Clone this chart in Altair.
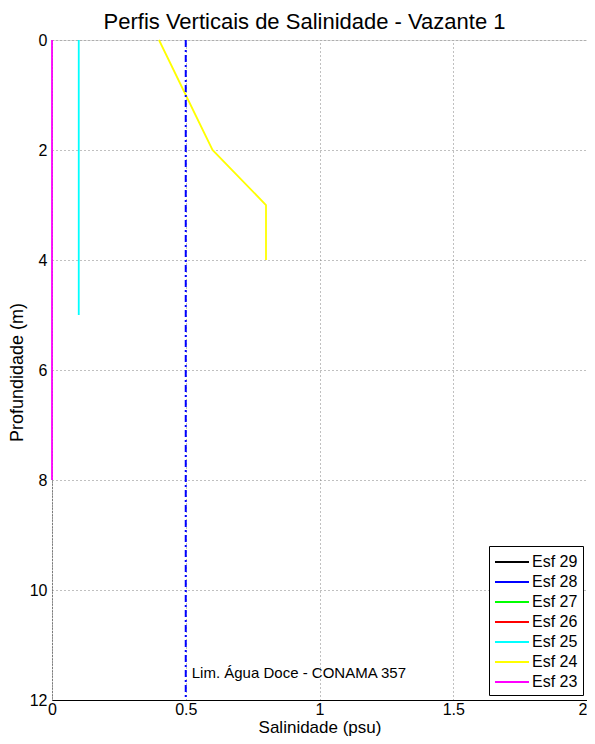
import altair as alt
import pandas as pd

# ---- data ----
series_names = ["Esf 29", "Esf 28", "Esf 27", "Esf 26", "Esf 25", "Esf 24", "Esf 23"]
series_colors = ["#000000", "#0000FF", "#00FF00", "#FF0000", "#00FFFF", "#FFFF00", "#FF00FF"]

# Esf 29..26 show no visible profile in the reference (only legend entries)
esf29_depth, esf29_sal = [], []
esf28_depth, esf28_sal = [], []
esf27_depth, esf27_sal = [], []
esf26_depth, esf26_sal = [], []
esf25_depth = [0, 1, 2, 3, 4, 5]
esf25_sal = [0.1, 0.1, 0.1, 0.1, 0.1, 0.1]
esf24_depth = [0, 1, 2, 3, 4]
esf24_sal = [0.4, 0.5, 0.6, 0.8, 0.8]
esf23_depth = [0, 1, 2, 3, 4, 5, 6, 7, 8]
esf23_sal = [0, 0, 0, 0, 0, 0, 0, 0, 0]

limit_sal = [0.5]
limit_label = ["Lim. Água Doce - CONAMA 357"]
limit_label_depth = [11.5]

x_ticks = [0, 0.5, 1, 1.5, 2]
y_ticks = [0, 2, 4, 6, 8, 10, 12]

# ---- build table ----
all_depths = [esf29_depth, esf28_depth, esf27_depth, esf26_depth, esf25_depth, esf24_depth, esf23_depth]
all_sals = [esf29_sal, esf28_sal, esf27_sal, esf26_sal, esf25_sal, esf24_sal, esf23_sal]
rows = []
for name, ds, ss in zip(series_names, all_depths, all_sals):
    for d, s in zip(ds, ss):
        rows.append({"serie": name, "depth": d, "sal": s})
df = pd.DataFrame(rows)

lim_df = pd.DataFrame({"sal": limit_sal})
lbl_df = pd.DataFrame({"sal": limit_sal, "depth": limit_label_depth, "text": limit_label})

FONT = "Liberation Sans"
W, H = 535, 660

x_scale = alt.Scale(domain=[0, 2], nice=False, zero=False)
y_scale = alt.Scale(domain=[0, 12], reverse=True, nice=False, zero=False)

x_axis = alt.Axis(
    title="Salinidade (psu)", values=x_ticks, format="~g", grid=True, ticks=False,
    labelFontSize=16, labelPadding=1, labelColor="black", labelFont=FONT,
    labelAlign={"condition": {"test": "datum.value >= 2", "value": "right"}, "value": "center"},
    titleFontSize=17, titleFontWeight="normal", titleColor="black", titleFont=FONT,
    titleX=W / 2, titleY=32.5, titleBaseline="alphabetic", titleAlign="center",
    domainColor="black", domainWidth=1,
    gridColor="#808080", gridDash=[1, 3], gridWidth=1,
    labelFlush=False,
)
y_axis = alt.Axis(
    title="Profundidade (m)", values=y_ticks, format="~g", grid=True, ticks=False,
    labelFontSize=16, labelPadding=5, labelColor="black", labelFont=FONT,
    titleFontSize=18, titleFontWeight="normal", titleColor="black", titleFont=FONT,
    titleX=-35, titleY=332, titleAngle=-90, titleBaseline="middle", titleAlign="center",
    domainColor="#444444", domainDash=[1, 2], domainWidth=1,
    gridColor="#808080", gridDash=[1, 3], gridWidth=1,
    labelFlush=False,
)

lines = alt.Chart(df).mark_line(strokeWidth=1.8).encode(
    x=alt.X("sal:Q", scale=x_scale, axis=x_axis),
    y=alt.Y("depth:Q", scale=y_scale, axis=y_axis),
    color=alt.Color(
        "serie:N",
        scale=alt.Scale(domain=series_names, range=series_colors),
        sort=series_names,
        legend=alt.Legend(
            title=None, orient="none", legendX=437, legendY=506,
            strokeColor="black", fillColor="white", padding=5, cornerRadius=0,
            symbolType="M-1,0H2.4", symbolSize=400, symbolStrokeWidth=1.8,
            labelFontSize=16, labelFont=FONT, labelColor="black", labelOffset=16,
            rowPadding=1, labelExpr="datum.label + '   '",
        ),
    ),
    detail="serie:N",
    order=alt.Order("depth:Q"),
)

rule = alt.Chart(lim_df).mark_rule(color="#0000FF", strokeWidth=2, strokeDash=[7, 3, 2, 3]).encode(
    x=alt.X("sal:Q", scale=x_scale),
)

label = alt.Chart(lbl_df).mark_text(align="left", baseline="middle", dx=6, fontSize=15, font=FONT, color="black").encode(
    x=alt.X("sal:Q", scale=x_scale),
    y=alt.Y("depth:Q", scale=y_scale),
    text="text:N",
)

chart = alt.layer(lines, rule, label).properties(
    width=W,
    height=H,
    autosize=alt.AutoSizeParams(type="none"),
    padding={"left": 44, "top": 32, "right": 0, "bottom": 36},
    title=alt.TitleParams(
        "Perfis Verticais de Salinidade - Vazante 1", fontSize=22, fontWeight="normal",
        font=FONT, color="black", anchor="middle", baseline="alphabetic", offset=-19, dx=-15,
        frame="group",
    ),
).configure_view(strokeWidth=0).configure(background="white")

chart.save("out.html", embed_options={"renderer": "svg", "actions": False})
